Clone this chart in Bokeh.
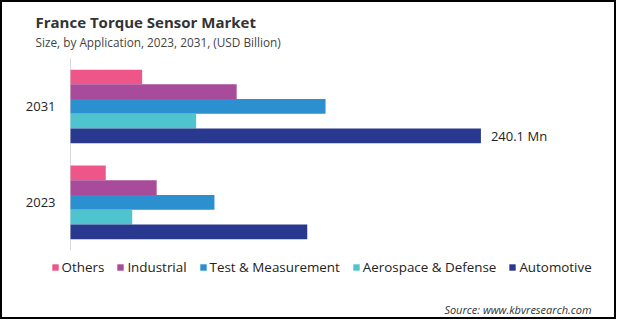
from bokeh.plotting import figure
from bokeh.models import (Range1d, ColumnDataSource, Legend, LegendItem, Label)
from bokeh.core.properties import value
from bokeh.embed import file_html
from bokeh.resources import INLINE

years = ["2023", "2031"]
segments = ["Others", "Industrial", "Test & Measurement", "Aerospace & Defense", "Automotive"]
others = [20.6, 41.9]
industrial = [50.4, 97.2]
test_measurement = [84.2, 149.2]
aerospace = [36.1, 73.5]
automotive = [138.5, 240.1]
colors = ["#EE5689", "#A84B9B", "#2C8FCF", "#4FC4CE", "#2A3990"]
value_label_year = "2031"
value_label_text = "240.1  Mn"

FONT = "Open Sans"
TXT = "#222222"

# frame covers whole drawing area; ranges chosen so the category axis sits at x=70px
p = figure(width=616, height=319, x_range=Range1d(-39.8, 320.6),
           y_range=Range1d(-0.74, 2.583), output_backend="svg", toolbar_location=None,
           min_border=0)
p.styles = {"border": "2px solid black"}
p.outline_line_color = None
p.xgrid.visible = False
p.ygrid.visible = False
p.xaxis.visible = False
p.yaxis.visible = False

ypos = [i + 0.5 for i in range(len(years))]
src = ColumnDataSource(dict(year=years, y=ypos, others=others, industrial=industrial,
                            test=test_measurement, aero=aerospace, auto=automotive))

# category axis line and labels
p.segment(x0=0, y0=0, x1=0, y1=len(years), line_color="#d9d9d9", line_width=1)
p.text(x=0, y="y", text="year", source=src, x_offset=-15, text_align="right",
       text_baseline="middle", text_font=value(FONT), text_font_size="13px",
       text_color=TXT)

fields = ["others", "industrial", "test", "aero", "auto"]
bh = 0.1535
offsets = [2 * bh, bh, 0, -bh, -2 * bh]
items = []
for f, name, c, off in zip(fields, segments, colors, offsets):
    ysrc = ColumnDataSource(dict(y=[v + off for v in ypos], right=src.data[f]))
    r = p.hbar(y="y", right="right", left=0, height=bh, source=ysrc,
               fill_color=c, line_color=None)
    items.append(LegendItem(label=name, renderers=[r]))

i = years.index(value_label_year)
lsrc = ColumnDataSource(dict(x=[automotive[i]], y=[ypos[i] - 2 * bh], t=[value_label_text]))
p.text(x="x", y="y", text="t", source=lsrc, x_offset=10, text_baseline="middle",
       text_font=value(FONT), text_font_size="13px", text_color=TXT)

legend = Legend(items=items, orientation="horizontal", location=(48.6, 45),
                glyph_width=8, glyph_height=8, label_standoff=3, spacing=12,
                padding=0, margin=0, border_line_color=None, background_fill_alpha=0,
                label_text_font=FONT, label_text_font_size="13.4px",
                label_text_color=TXT)
p.add_layout(legend, "center")

p.add_layout(Label(x=33, y=300, x_units="screen", y_units="screen",
                   text="France Torque Sensor Market", text_font=FONT,
                   text_font_size="15px", text_font_style="bold",
                   text_color="#333333", text_baseline="middle"))
p.add_layout(Label(x=33, y=280, x_units="screen", y_units="screen",
                   text="Size, by Application, 2023, 2031, (USD Billion)",
                   text_font=FONT, text_font_size="11.8px", text_color="#444444",
                   text_baseline="middle"))
p.add_layout(Label(x=589, y=12, x_units="screen", y_units="screen",
                   text="Source: www.kbvresearch.com", text_font=FONT,
                   text_font_size="11px", text_font_style="italic",
                   text_color="#333333", text_align="right", text_baseline="middle"))

open("out.html", "w").write(file_html(p, INLINE))
